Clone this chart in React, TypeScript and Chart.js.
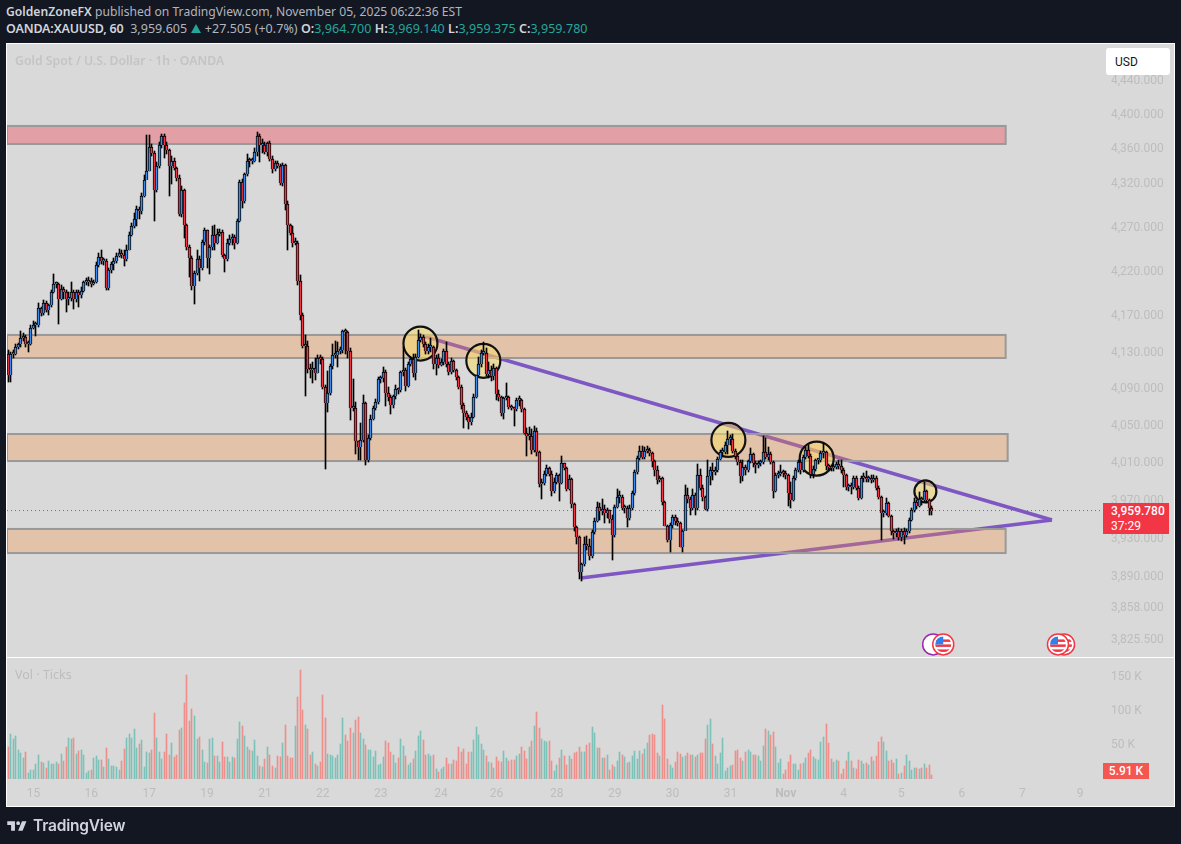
import React, { useEffect, useRef } from "react";
import { Chart, registerables } from "chart.js";

Chart.register(...registerables);

// 1h candles, Oct 14 -> Nov 5
const firstOpen = 4129;
const closes = [
  4105, 4129, 4129, 4136, 4139, 4146, 4147, 4140, 4140, 4157,
  4160, 4160, 4179, 4174, 4185, 4177, 4183, 4197, 4206, 4206,
  4190, 4201, 4197, 4189, 4191, 4197, 4189, 4197, 4194, 4198,
  4208, 4208, 4210, 4206, 4208, 4228, 4237, 4232, 4232, 4202,
  4222, 4229, 4232, 4238, 4241, 4239, 4234, 4245, 4261, 4272,
  4280, 4291, 4289, 4306, 4324, 4335, 4363, 4356, 4313, 4341,
  4365, 4375, 4365, 4359, 4341, 4346, 4338, 4327, 4286, 4313,
  4273, 4248, 4236, 4204, 4219, 4234, 4224, 4254, 4267, 4236,
  4248, 4261, 4253, 4263, 4265, 4239, 4234, 4253, 4257, 4259,
  4253, 4278, 4322, 4300, 4331, 4347, 4346, 4346, 4357, 4376,
  4365, 4365, 4357, 4367, 4349, 4337, 4344, 4341, 4321, 4342,
  4297, 4273, 4264, 4253, 4253, 4210, 4172, 4137, 4137, 4112,
  4111, 4113, 4108, 4124, 4123, 4092, 4075, 4086, 4115, 4127,
  4127, 4132, 4133, 4154, 4153, 4132, 4070, 4070, 4034, 4027,
  4035, 4075, 4014, 4037, 4058, 4069, 4076, 4101, 4102, 4109,
  4086, 4081, 4073, 4082, 4090, 4089, 4109, 4111, 4093, 4118,
  4123, 4108, 4125, 4144, 4147, 4140, 4132, 4136, 4136, 4118,
  4124, 4116, 4120, 4132, 4118, 4109, 4121, 4111, 4103, 4092,
  4073, 4064, 4060, 4054, 4060, 4081, 4105, 4117, 4130, 4130,
  4107, 4111, 4104, 4113, 4085, 4081, 4064, 4080, 4081, 4071,
  4070, 4068, 4078, 4078, 4068, 4043, 4039, 4039, 4024, 4045,
  4022, 3988, 3989, 3999, 4005, 3999, 3981, 3990, 3997, 3989,
  4010, 4005, 3983, 3993, 3967, 3942, 3932, 3895, 3904, 3925,
  3923, 3912, 3937, 3949, 3964, 3959, 3961, 3957, 3960, 3951,
  3934, 3964, 3974, 3974, 3962, 3963, 3952, 3962, 3978, 4001,
  4016, 4023, 4017, 4023, 4024, 4021, 4012, 4003, 3992, 3994,
  3969, 3944, 3929, 3945, 3953, 3949, 3947, 3922, 3938, 3976,
  3972, 3962, 3976, 3962, 3998, 3984, 3974, 3961, 3996, 4003,
  4001, 4003, 4015, 4022, 4022, 4030, 4036, 4036, 4023, 4018,
  4011, 3996, 4006, 4003, 4012, 4020, 4010, 4008, 4010, 4011,
  4022, 4017, 4020, 4011, 3980, 3997, 3999, 4001, 4000, 3997,
  3978, 3971, 3994, 4003, 4011, 4003, 4017, 4024, 4018, 3999,
  4004, 4013, 4013, 4021, 4022, 4007, 4006, 4005, 4006, 4009,
  4007, 4003, 3997, 3985, 3986, 3985, 3994, 3984, 3973, 3994,
  3994, 3993, 3994, 3992, 3994, 3984, 3974, 3957, 3957, 3968,
  3954, 3938, 3936, 3938, 3932, 3938, 3934, 3938, 3950, 3960,
  3969, 3965, 3972, 3971, 3980, 3971, 3963, 3959.78,
];
const highs = [
  4133, 4131, 4133, 4139, 4141, 4154, 4152, 4149, 4143, 4160,
  4165, 4164, 4185, 4181, 4188, 4187, 4184, 4199, 4217, 4209,
  4207, 4205, 4203, 4200, 4197, 4209, 4199, 4199, 4199, 4203,
  4210, 4213, 4214, 4213, 4211, 4231, 4241, 4245, 4236, 4234,
  4224, 4231, 4235, 4241, 4246, 4244, 4245, 4250, 4265, 4275,
  4287, 4295, 4294, 4310, 4330, 4377, 4377, 4366, 4358, 4345,
  4369, 4378, 4378, 4368, 4360, 4352, 4350, 4339, 4330, 4318,
  4314, 4274, 4250, 4238, 4221, 4244, 4238, 4256, 4270, 4267,
  4250, 4272, 4273, 4268, 4268, 4267, 4240, 4257, 4262, 4263,
  4262, 4280, 4325, 4326, 4332, 4355, 4350, 4350, 4362, 4380,
  4378, 4372, 4368, 4369, 4370, 4352, 4346, 4346, 4343, 4344,
  4343, 4300, 4274, 4272, 4258, 4255, 4216, 4174, 4150, 4143,
  4117, 4120, 4124, 4127, 4127, 4125, 4095, 4110, 4117, 4140,
  4143, 4142, 4136, 4155, 4156, 4154, 4135, 4101, 4076, 4034,
  4053, 4084, 4076, 4040, 4062, 4072, 4079, 4103, 4104, 4114,
  4111, 4092, 4084, 4084, 4094, 4091, 4110, 4136, 4113, 4120,
  4125, 4128, 4128, 4155, 4151, 4150, 4142, 4139, 4146, 4137,
  4127, 4128, 4123, 4134, 4142, 4120, 4124, 4122, 4112, 4104,
  4094, 4075, 4066, 4062, 4064, 4085, 4106, 4125, 4133, 4142,
  4135, 4120, 4115, 4118, 4114, 4089, 4082, 4081, 4097, 4082,
  4073, 4071, 4080, 4082, 4079, 4069, 4048, 4049, 4047, 4050,
  4048, 4023, 3993, 4002, 4008, 4006, 4002, 3994, 4000, 3999,
  4018, 4010, 4006, 3997, 3994, 3968, 3943, 3933, 3905, 3932,
  3933, 3930, 3939, 3952, 3969, 3968, 3972, 3966, 3963, 3960,
  3955, 3966, 3983, 3980, 3976, 3966, 3965, 3966, 3980, 4003,
  4018, 4029, 4029, 4027, 4028, 4026, 4022, 4013, 4007, 3996,
  3995, 3970, 3945, 3947, 3955, 3955, 3952, 3948, 3939, 3987,
  3984, 3974, 3983, 3978, 4009, 4004, 3987, 3975, 4013, 4006,
  4010, 4006, 4017, 4024, 4026, 4033, 4045, 4040, 4041, 4025,
  4019, 4013, 4013, 4008, 4014, 4026, 4021, 4012, 4012, 4013,
  4039, 4037, 4027, 4022, 4012, 4000, 4002, 4008, 4003, 4002,
  3999, 3990, 3996, 4005, 4014, 4013, 4019, 4027, 4030, 4020,
  4007, 4015, 4015, 4023, 4032, 4023, 4009, 4008, 4009, 4011,
  4013, 4013, 4005, 3999, 3988, 3989, 3996, 3996, 3986, 3996,
  4000, 4002, 3996, 3997, 3998, 3996, 3986, 3975, 3960, 3973,
  3969, 3955, 3939, 3940, 3941, 3940, 3941, 3940, 3952, 3962,
  3973, 3971, 3979, 3974, 3990, 3982, 3972, 3965,
];
const lows = [
  4098, 4098, 4124, 4127, 4134, 4136, 4143, 4136, 4131, 4138,
  4156, 4148, 4158, 4170, 4172, 4175, 4172, 4181, 4196, 4202,
  4162, 4188, 4190, 4175, 4183, 4187, 4178, 4186, 4181, 4191,
  4197, 4205, 4204, 4203, 4205, 4207, 4225, 4229, 4228, 4199,
  4200, 4219, 4222, 4230, 4237, 4236, 4226, 4232, 4244, 4260,
  4270, 4272, 4280, 4286, 4305, 4332, 4335, 4352, 4278, 4311,
  4338, 4362, 4350, 4355, 4306, 4320, 4336, 4323, 4283, 4282,
  4258, 4244, 4214, 4200, 4184, 4216, 4210, 4222, 4250, 4224,
  4218, 4244, 4245, 4251, 4260, 4237, 4220, 4232, 4250, 4250,
  4246, 4251, 4276, 4292, 4298, 4329, 4340, 4343, 4345, 4352,
  4345, 4356, 4355, 4352, 4346, 4332, 4335, 4338, 4319, 4318,
  4290, 4244, 4262, 4248, 4250, 4205, 4166, 4135, 4083, 4108,
  4102, 4097, 4100, 4108, 4118, 4090, 4004, 4065, 4084, 4112,
  4124, 4114, 4128, 4130, 4128, 4124, 4056, 4066, 4020, 4013,
  4014, 4033, 4008, 4011, 4035, 4056, 4067, 4074, 4097, 4098,
  4072, 4077, 4063, 4069, 4079, 4085, 4087, 4104, 4088, 4092,
  4115, 4103, 4100, 4124, 4142, 4136, 4128, 4128, 4131, 4112,
  4105, 4113, 4115, 4116, 4114, 4106, 4107, 4109, 4100, 4090,
  4068, 4048, 4056, 4047, 4051, 4059, 4080, 4104, 4114, 4127,
  4104, 4102, 4099, 4100, 4078, 4077, 4061, 4058, 4078, 4068,
  4067, 4050, 4066, 4072, 4065, 4041, 4018, 4035, 4020, 4022,
  4018, 3985, 3972, 3987, 3996, 3996, 3975, 3978, 3988, 3970,
  3988, 4003, 3980, 3982, 3962, 3938, 3925, 3888, 3886, 3902,
  3918, 3908, 3910, 3935, 3948, 3950, 3955, 3947, 3952, 3947,
  3908, 3932, 3962, 3968, 3960, 3957, 3942, 3950, 3960, 3976,
  3999, 4014, 4015, 4015, 4021, 4018, 4006, 3996, 3988, 3990,
  3966, 3943, 3927, 3916, 3941, 3945, 3943, 3921, 3916, 3945,
  3968, 3955, 3960, 3955, 3960, 3982, 3970, 3960, 3959, 3987,
  3992, 3998, 4001, 4013, 4017, 4020, 4020, 4030, 4021, 4015,
  4008, 3989, 3991, 3998, 4001, 4010, 4006, 4000, 4005, 4007,
  4009, 4015, 4014, 4009, 3973, 3979, 3994, 3996, 3995, 3993,
  3965, 3962, 3970, 3992, 4001, 3999, 4001, 4015, 4016, 3994,
  3994, 4002, 4009, 4011, 4016, 4003, 4003, 4002, 4002, 4004,
  4004, 4000, 3985, 3982, 3981, 3977, 3983, 3982, 3971, 3972,
  3990, 3990, 3990, 3989, 3990, 3982, 3972, 3929, 3953, 3955,
  3953, 3934, 3930, 3932, 3929, 3928, 3925, 3932, 3936, 3949,
  3958, 3961, 3964, 3966, 3969, 3968, 3955, 3955,
];
// ticks volume, in thousands
const volumes = [
  47, 66, 59, 63, 43, 38, 31, 40, 9, 13, 13, 22, 35, 25, 24, 16, 26, 22, 22, 25,
  22, 37, 26, 47, 60, 59, 60, 37, 41, 43, 35, 9, 12, 13, 31, 34, 28, 28, 18, 46,
  29, 19, 19, 18, 13, 26, 44, 60, 66, 60, 73, 46, 51, 57, 18, 40, 38, 43, 97, 60,
  40, 29, 40, 66, 35, 53, 32, 35, 72, 75, 112, 153, 85, 103, 93, 59, 62, 43, 25, 24,
  59, 60, 34, 34, 25, 54, 32, 32, 25, 32, 31, 59, 84, 78, 63, 47, 43, 41, 57, 34,
  19, 18, 29, 47, 35, 19, 16, 34, 32, 53, 79, 34, 31, 31, 78, 121, 160, 101, 79, 73,
  35, 40, 22, 19, 25, 123, 90, 37, 35, 34, 31, 35, 51, 90, 65, 56, 75, 68, 87, 91,
  68, 59, 50, 43, 43, 32, 41, 21, 22, 32, 56, 53, 40, 35, 24, 31, 59, 49, 34, 21,
  24, 29, 41, 63, 71, 57, 35, 37, 34, 35, 15, 10, 15, 18, 31, 22, 22, 28, 26, 47,
  40, 44, 22, 40, 40, 57, 76, 65,
  51, 43, 34, 25, 24, 16, 32, 26, 25, 41, 31, 26, 28, 28, 34, 37, 47, 41, 29, 47,
  56, 78, 98, 75, 59, 56, 54, 56, 26, 12, 21, 31, 43, 34, 21, 34, 29, 38, 40, 47,
  40, 40, 50, 53, 76, 68, 46, 46, 31, 31, 35, 13, 21, 18, 26, 40, 35, 32, 24, 25,
  34, 41, 29, 41, 37, 44, 53, 65, 66, 65, 38, 34, 109, 88, 29, 21, 16, 25, 40, 37,
  32, 34, 38, 35, 35, 32, 35, 38, 38, 59, 79, 88, 51, 34, 22, 38, 60, 12, 16, 19,
  21, 41, 43, 31, 26, 40, 43, 40, 35, 35, 34, 26, 49, 73, 71, 65, 69, 47, 24, 29,
  7, 13, 25, 35, 22, 22, 13, 22, 24, 31, 38, 43, 32, 29, 28, 54, 62, 81, 53, 29,
  25, 28, 26, 7, 15, 26, 40, 26, 16, 15, 28, 26, 22, 24, 21, 32, 26, 34, 54, 62,
  54, 41, 26, 28, 24, 29, 7, 9, 19, 35, 26, 13, 16, 16, 15, 16, 22, 16, 21, 5.91,
];
const lastPrice = 3959.78;

const priceTicks = [4440, 4400, 4360, 4320, 4270, 4220, 4170, 4130, 4090, 4050, 4010, 3970, 3930, 3890, 3858, 3825.5];
const volumeTicks = [50, 100, 150];
const timeTicks = [10, 33, 56, 79, 102, 125, 148, 172, 194, 218, 241, 264, 287, 309, 332, 355, 379, 403, 426];
const timeLabels = ["15", "16", "17", "19", "21", "22", "23", "24", "26", "28", "29", "30", "31", "Nov", "4", "5", "6", "7", "9"];

// drawings on the chart, in bar index / price
const zoneEnd = [396.4, 396.4, 397.2, 396.4];
const zoneTops = [4387.2, 4149.5, 4041.4, 3940.4];
const zoneBottoms = [4366.2, 4124.1, 4012.4, 3915.2];
const zoneColors = ["rgba(253, 27, 50, 0.3)", "rgba(247, 144, 60, 0.3)", "rgba(247, 144, 60, 0.3)", "rgba(247, 144, 60, 0.3)"];
const upperLine = [{ x: 162.8, y: 4150 }, { x: 414.8, y: 3949.8 }];
const lowerLine = [{ x: 227.6, y: 3889.2 }, { x: 414.8, y: 3949.8 }];
const circles = [
  { x: 163.8, y: 4140 },
  { x: 188.8, y: 4121 },
  { x: 286.2, y: 4035 },
  { x: 321.3, y: 4015 },
  { x: 364.5, y: 3980 },
];
const circleSizes = [17, 17, 17, 17, 11];
const eventX = [367.6, 371.6, 419.6, 417.2];
const eventKinds = ["other", "us", "us", "us"];
const eventPrice = 3821;

const UP = "#3d8bea";
const DOWN = "#f23645";
const INK = "#000000";
const AXIS_TEXT = "#bdbdbd";
const FONT = "Roboto, sans-serif";

const opens = closes.map((_, i) => (i === 0 ? firstOpen : closes[i - 1]));
const xMin = -0.52;
const xMax = 433.9;
const CIRCLE_DATASET = 3;

const drawFlag = (ctx: CanvasRenderingContext2D, x: number, y: number, kind: string) => {
  const r = 10.5;
  ctx.save();
  ctx.beginPath();
  ctx.arc(x, y, r, 0, Math.PI * 2);
  ctx.fillStyle = "#ffffff";
  ctx.fill();
  ctx.lineWidth = 1.5;
  ctx.strokeStyle = kind === "us" ? "#f23645" : "#9c27b0";
  ctx.stroke();
  if (kind === "us") {
    ctx.beginPath();
    ctx.arc(x, y, r - 2.5, 0, Math.PI * 2);
    ctx.clip();
    ctx.fillStyle = "#f23645";
    ctx.fillRect(x - r, y - 5, r * 2, 2.5);
    ctx.fillRect(x - r, y, r * 2, 2.5);
    ctx.fillRect(x - r, y + 5, r * 2, 2.5);
    ctx.fillStyle = "#2f80ed";
    ctx.fillRect(x - r, y - r, r, r);
  }
  ctx.restore();
};

// bars land on whole pixels, otherwise 1px wicks and volume bars smear
const snapBarsPlugin = {
  id: "snapBars",
  beforeDatasetsDraw(chart: Chart) {
    chart.data.datasets.forEach((_, i) => {
      const meta = chart.getDatasetMeta(i);
      if (meta.type !== "bar") return;
      meta.data.forEach((el: any) => {
        el.x = Math.floor(el.x) + 0.5;
        el.y = Math.round(el.y);
        el.base = Math.round(el.base);
        el.height = el.base - el.y;
      });
    });
  },
};

const drawingsPlugin = {
  id: "drawings",
  // zones sit over the trend lines but under the circles and candles
  beforeDatasetDraw(chart: Chart, args: any) {
    if (args.index !== CIRCLE_DATASET) return;
    const { ctx, chartArea, scales } = chart;
    ctx.save();
    zoneTops.forEach((top, i) => {
      const y1 = scales.y.getPixelForValue(top);
      const y2 = scales.y.getPixelForValue(zoneBottoms[i]);
      const x2 = scales.x.getPixelForValue(zoneEnd[i]);
      ctx.fillStyle = zoneColors[i];
      ctx.fillRect(chartArea.left, y1, x2 - chartArea.left, y2 - y1);
      ctx.strokeStyle = "#999999";
      ctx.lineWidth = 2;
      ctx.strokeRect(chartArea.left, y1, x2 - chartArea.left, y2 - y1);
    });
    ctx.restore();
  },
  afterDatasetsDraw(chart: Chart) {
    const { ctx, scales } = chart;
    eventX.forEach((x, i) => {
      drawFlag(ctx, scales.x.getPixelForValue(x), scales.y.getPixelForValue(eventPrice), eventKinds[i]);
    });
  },
};

// keep the plot area where the panel wants it, whatever the tick padding is
const fixSideAxis = (axis: any) => {
  axis.width = 75;
  axis.paddingTop = 0;
  axis.paddingBottom = 0;
};

const App = () => {
  const priceRef = useRef<HTMLCanvasElement>(null);
  const volumeRef = useRef<HTMLCanvasElement>(null);

  useEffect(() => {
    if (!priceRef.current || !volumeRef.current) return;
    const idx = closes.map((_, i) => i);

    const priceChart = new Chart(priceRef.current, {
      type: "bar",
      plugins: [snapBarsPlugin, drawingsPlugin],
      data: {
        datasets: [
          {
            type: "line",
            data: [{ x: xMin, y: lastPrice }, { x: xMax, y: lastPrice }],
            borderColor: "#f23645",
            borderWidth: 1,
            borderDash: [1, 3],
            pointRadius: 0,
            order: 6,
          },
          {
            type: "line",
            data: upperLine,
            borderColor: "#7e57c2",
            borderWidth: 3.5,
            pointRadius: 0,
            order: 5,
          },
          {
            type: "line",
            data: lowerLine,
            borderColor: "#7e57c2",
            borderWidth: 3.5,
            pointRadius: 0,
            order: 5,
          },
          {
            type: "scatter",
            data: circles,
            backgroundColor: "rgba(250, 220, 100, 0.5)",
            borderColor: "#111111",
            borderWidth: 2.2,
            pointRadius: circleSizes,
            order: 4,
          },
          {
            data: idx.map((i) => ({ x: i, y: [lows[i], highs[i]] })),
            backgroundColor: INK,
            barThickness: 1,
            grouped: false,
            order: 3,
          },
          {
            data: idx.map((i) => ({ x: i, y: [opens[i], closes[i]] })),
            backgroundColor: idx.map((i) => (closes[i] < opens[i] ? DOWN : UP)),
            borderColor: INK,
            borderWidth: 1,
            barThickness: 3,
            minBarLength: 2,
            grouped: false,
            order: 2,
          },
        ],
      } as any,
      options: {
        responsive: false,
        animation: false,
        devicePixelRatio: 1,
        events: [],
        layout: { padding: 0, autoPadding: false },
        plugins: { legend: { display: false }, tooltip: { enabled: false } },
        scales: {
          x: {
            type: "linear",
            display: false,
            min: xMin,
            max: xMax,
            offset: false,
          },
          y: {
            type: "logarithmic",
            position: "right",
            min: 3808.2,
            max: 4484.1,
            afterBuildTicks: (axis: any) => {
              axis.ticks = priceTicks.map((value) => ({ value }));
            },
            afterFit: fixSideAxis,
            grid: { display: false, drawTicks: false },
            border: { display: false },
            ticks: {
              autoSkip: false,
              padding: 11,
              color: AXIS_TEXT,
              font: { family: FONT, size: 12 },
              callback: (value: any) =>
                Number(value).toLocaleString("en-US", { minimumFractionDigits: 3, maximumFractionDigits: 3 }),
            },
          },
        },
      } as any,
    });

    const volumeChart = new Chart(volumeRef.current, {
      type: "bar",
      plugins: [snapBarsPlugin],
      data: {
        datasets: [
          {
            data: idx.map((i) => ({ x: i, y: volumes[i] })),
            backgroundColor: idx.map((i) => (closes[i] < opens[i] ? "#ef8f8b" : "#7cc2b9")),
            barThickness: 1,
          },
        ],
      },
      options: {
        responsive: false,
        animation: false,
        devicePixelRatio: 1,
        events: [],
        layout: { padding: 0, autoPadding: false },
        plugins: { legend: { display: false }, tooltip: { enabled: false } },
        scales: {
          x: {
            type: "linear",
            min: xMin,
            max: xMax,
            offset: false,
            afterBuildTicks: (axis: any) => {
              axis.ticks = timeTicks.map((value) => ({ value }));
            },
            afterFit: (axis: any) => {
              axis.height = 28;
              axis.paddingLeft = 0;
              axis.paddingRight = 0;
            },
            grid: { display: false, drawTicks: false },
            border: { display: false },
            ticks: {
              autoSkip: false,
              maxRotation: 0,
              padding: 8,
              color: AXIS_TEXT,
              font: (ctx: any) => ({
                family: FONT,
                size: 12,
                weight: ctx.tick && ctx.tick.value === 309 ? "bold" : "normal",
              }),
              callback: (value: any) => timeLabels[timeTicks.indexOf(Number(value))],
            },
          },
          y: {
            position: "right",
            min: 0,
            max: 177.9,
            afterBuildTicks: (axis: any) => {
              axis.ticks = volumeTicks.map((value) => ({ value }));
            },
            afterFit: fixSideAxis,
            grid: { display: false, drawTicks: false },
            border: { display: false },
            ticks: {
              autoSkip: false,
              padding: 11,
              color: AXIS_TEXT,
              font: { family: FONT, size: 12 },
              callback: (value: any) => `${value} K`,
            },
          },
        },
      } as any,
    });

    return () => {
      priceChart.destroy();
      volumeChart.destroy();
    };
  }, []);

  const value = { color: "#26a69a" };
  const label = { color: "#d1d4dc", fontWeight: 600 };

  return (
    <div
      style={{
        position: "absolute",
        left: 0,
        top: 0,
        width: 1181,
        height: 844,
        background: "#131722",
        overflow: "hidden",
        fontFamily: "'Noto Sans', sans-serif",
      }}
    >
      <div style={{ position: "absolute", left: 6, top: 3, fontSize: 12.15, lineHeight: "18px", color: "#b2b5be", whiteSpace: "nowrap" }}>
        <span style={{ color: "#d1d4dc", fontWeight: 600 }}>GoldenZoneFX</span> published on TradingView.com, November 05, 2025 06:22:36 EST
      </div>
      <div style={{ position: "absolute", left: 6, top: 20, fontSize: 12.5, letterSpacing: 0.04, lineHeight: "18px", color: "#b2b5be", whiteSpace: "pre" }}>
        <span style={{ ...label, letterSpacing: -0.17 }}>OANDA:XAUUSD, 60</span>
        {"  3,959.605 "}
        <svg width="10" height="9" viewBox="0 0 10 9" style={{ margin: "0 1px 0 0" }}>
          <path d="M5 0 10 9H0Z" fill="#26a69a" />
        </svg>
        {" +27.505 (+0.7%) "}
        <span style={label}>O:</span>
        <span style={value}>3,964.700</span> <span style={label}>H:</span>
        <span style={value}>3,969.140</span> <span style={label}>L:</span>
        <span style={value}>3,959.375</span> <span style={label}>C:</span>
        <span style={value}>3,959.780</span>
      </div>

      {/* panel with the white frame and the pane separator */}
      <div style={{ position: "absolute", left: 6, top: 43, width: 1169, height: 764, background: "#d9d9d9", border: "1px solid #fff", boxSizing: "border-box" }} />
      <div style={{ position: "absolute", left: 6, top: 657, width: 1169, height: 1, background: "#ffffff" }} />
      <canvas ref={priceRef} width={1168} height={613} style={{ position: "absolute", left: 7, top: 44, display: "block" }} />
      <canvas ref={volumeRef} width={1168} height={149} style={{ position: "absolute", left: 7, top: 658, display: "block" }} />

      <div style={{ position: "absolute", left: 15, top: 52, fontSize: 12.25, lineHeight: "17px", fontWeight: 600, color: "#c4c4c4", whiteSpace: "nowrap" }}>
        Gold Spot / U.S. Dollar · 1h · OANDA
      </div>
      <div style={{ position: "absolute", left: 15, top: 666, fontSize: 12.5, lineHeight: "17px", color: "#bdbdbd", whiteSpace: "nowrap" }}>
        Vol · Ticks
      </div>

      <div style={{ position: "absolute", left: 1106, top: 48, width: 64, height: 27, boxSizing: "border-box", paddingLeft: 9, paddingTop: 1, background: "#ffffff", borderRadius: 3, fontFamily: FONT, fontSize: 12, lineHeight: "26px", color: "#131722" }}>
        USD
      </div>
      <div style={{ position: "absolute", left: 1103, top: 503, width: 66, height: 31, boxSizing: "border-box", paddingLeft: 8, background: "#f23645", color: "#ffffff", fontFamily: FONT, fontSize: 12, lineHeight: "15px", paddingTop: 1 }}>
        <div style={{ fontWeight: 500 }}>3,959.780</div>
        <div>37:29</div>
      </div>
      <div style={{ position: "absolute", left: 1103, top: 763, width: 46, height: 16, boxSizing: "border-box", textAlign: "center", background: "#f4574f", color: "#ffffff", fontFamily: FONT, fontSize: 12, fontWeight: 500, lineHeight: "17px" }}>
        5.91 K
      </div>

      <svg style={{ position: "absolute", left: 6, top: 818 }} width="23" height="16" viewBox="0 4 36 19">
        <path fill="#d1d4dc" d="M14 6H2v6h6v9h6V6Zm12 15h-7l6-15h7l-6 15Zm-7-9a3 3 0 1 0 0-6 3 3 0 0 0 0 6Z" />
      </svg>
      <div style={{ position: "absolute", left: 33, top: 815, fontFamily: "Inter, sans-serif", fontSize: 15.5, lineHeight: "21px", fontWeight: 600, color: "#d1d4dc", letterSpacing: -0.2 }}>
        TradingView
      </div>
    </div>
  );
};

export default App;
